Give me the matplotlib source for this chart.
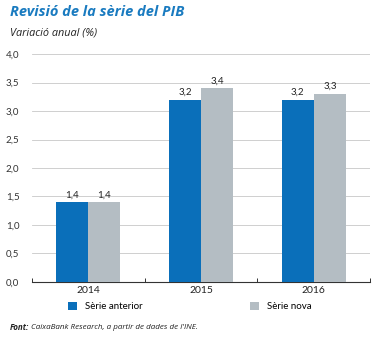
import matplotlib.pyplot as plt
import numpy as np

plt.rcParams['font.family'] = ['Lato', 'DejaVu Sans']
ital = ['Open Sans', 'DejaVu Sans']

years = ['2014', '2015', '2016']
serie_anterior = [1.4, 3.2, 3.2]
serie_nova = [1.4, 3.4, 3.3]
yticks = [0.0, 0.5, 1.0, 1.5, 2.0, 2.5, 3.0, 3.5, 4.0]

blue = '#0a6fba'
grey = '#b4bdc3'

fig = plt.figure(figsize=(3.8, 3.38), dpi=100)
ax = fig.add_axes([0.084, 0.166, 0.89, 0.674])

index = np.arange(len(years))
w = 0.285
b1 = ax.bar(index - w / 2, serie_anterior, w, color=blue, label='Sèrie anterior', zorder=3)
b2 = ax.bar(index + w / 2, serie_nova, w, color=grey, label='Sèrie nova', zorder=3)

for bars, vals in [(b1, serie_anterior), (b2, serie_nova)]:
    for r, v in zip(bars, vals):
        ax.text(r.get_x() + r.get_width() / 2, v + 0.05, ('%.1f' % v).replace('.', ','),
                ha='center', va='bottom', fontsize=7, color='#222222')

ax.set_xlim(-0.5, 2.5)
ax.set_ylim(0, 4.0)
ax.set_yticks(yticks)
ax.set_yticklabels([('%.1f' % t).replace('.', ',') for t in yticks], fontsize=7, color='#333333')
ax.yaxis.grid(True, color='#c8c8c8', linewidth=0.6, zorder=0)
ax.tick_params(axis='y', length=0, pad=9)

ax.set_xticks(index)
ax.set_xticklabels(years, fontsize=7.5, color='#222222')
ax.set_xticks([-0.5, 0.5, 1.5, 2.5], minor=True)
ax.tick_params(axis='x', which='major', length=0, pad=3)
ax.tick_params(axis='x', which='minor', length=3, width=0.7, color='#333333', direction='in')

for s in ['top', 'right', 'left']:
    ax.spines[s].set_visible(False)
ax.spines['bottom'].set_color('#333333')
ax.spines['bottom'].set_linewidth(0.8)

fig.legend(handles=[b1, b2], loc='center', bbox_to_anchor=(0.5, 0.093), ncol=2,
           frameon=False, fontsize=7, handlelength=0.9, handleheight=0.9,
           columnspacing=11, handletextpad=0.9)

fig.text(0.026, 0.965, 'Revisió de la sèrie del PIB', fontsize=10.5, fontweight='bold',
         style='italic', color='#1a7bc0', va='center', family=ital)
fig.text(0.026, 0.902, 'Variació anual (%)', fontsize=7.8, style='italic', color='#222222',
         va='center', family=ital)

fig.canvas.draw()
t = fig.text(0.026, 0.032, 'Font:', fontsize=5.8, fontweight='bold', style='italic', color='#222222',
             va='center', family=ital)
bb = t.get_window_extent(renderer=fig.canvas.get_renderer())
fig.text(bb.x1 / fig.bbox.width + 0.004, 0.032, "CaixaBank Research, a partir de dades de l'INE.",
         fontsize=5.8, style='italic', color='#222222', va='center', family=ital)

fig.savefig('out.png', dpi=100)
